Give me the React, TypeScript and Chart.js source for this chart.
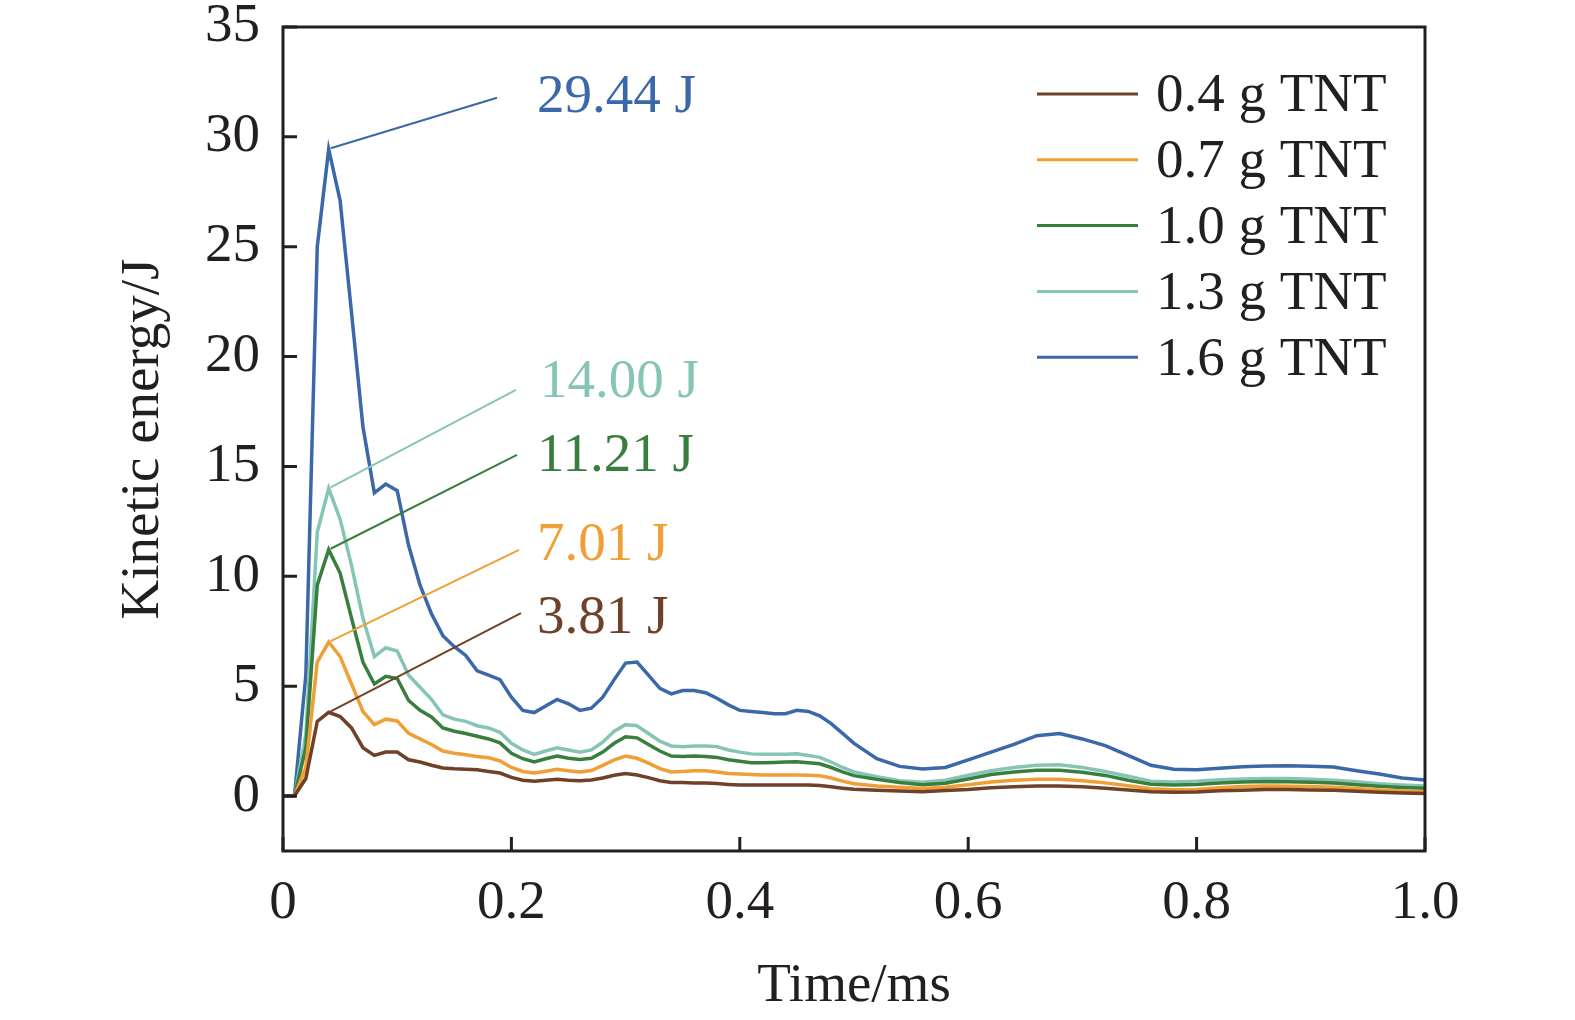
import React, { useEffect, useRef } from 'react';
import { Chart, registerables } from 'chart.js';

Chart.register(...registerables);

// ---------- data ----------
const TIME_MS = [
  0, 0.01, 0.02, 0.03, 0.04, 0.05, 0.06, 0.07, 0.08, 0.09,
  0.10, 0.11, 0.12, 0.13, 0.14, 0.15, 0.16, 0.17, 0.18, 0.19,
  0.20, 0.21, 0.22, 0.23, 0.24, 0.25, 0.26, 0.27, 0.28, 0.29,
  0.30, 0.31, 0.32, 0.33, 0.34, 0.35, 0.36, 0.37, 0.38, 0.39,
  0.40, 0.41, 0.42, 0.43, 0.44, 0.45, 0.46, 0.47, 0.48, 0.49,
  0.50,
  0.52, 0.54, 0.56, 0.58, 0.60, 0.62, 0.64, 0.66, 0.68, 0.70,
  0.72, 0.74, 0.76, 0.78, 0.80, 0.82, 0.84, 0.86, 0.88, 0.90,
  0.92, 0.94, 0.96, 0.98, 1.00,
];

const TNT_04 = [
  0, 0, 0.8, 3.4, 3.81, 3.62, 3.1, 2.2, 1.85, 2.0,
  2.0, 1.65, 1.55, 1.4, 1.28, 1.24, 1.22, 1.2, 1.12, 1.05,
  0.85, 0.72, 0.68, 0.72, 0.76, 0.72, 0.7, 0.73, 0.82, 0.95,
  1.03, 0.96, 0.84, 0.7, 0.62, 0.62, 0.6, 0.6, 0.57, 0.53,
  0.5, 0.5, 0.5, 0.5, 0.5, 0.5, 0.5, 0.48, 0.42, 0.36,
  0.31,
  0.26, 0.23, 0.2, 0.25, 0.3, 0.38, 0.42, 0.46, 0.46, 0.42,
  0.36, 0.28, 0.2, 0.17, 0.18, 0.24, 0.27, 0.3, 0.3, 0.28,
  0.26, 0.22, 0.17, 0.14, 0.12,
];

const TNT_07 = [
  0, 0, 1.3, 6.1, 7.01, 6.35, 5.1, 3.85, 3.25, 3.5,
  3.42, 2.85, 2.6, 2.35, 2.05, 1.95, 1.88, 1.8, 1.74, 1.6,
  1.3, 1.12, 1.05, 1.13, 1.22, 1.15, 1.1, 1.16, 1.4, 1.65,
  1.82, 1.72, 1.5, 1.25, 1.1, 1.12, 1.15, 1.15, 1.1, 1.03,
  1.0, 0.98, 0.96, 0.96, 0.96, 0.96, 0.95, 0.93, 0.82, 0.68,
  0.56,
  0.46, 0.4, 0.34, 0.4, 0.52, 0.64, 0.72, 0.77, 0.77, 0.7,
  0.6, 0.47, 0.33, 0.29, 0.3, 0.38, 0.43, 0.46, 0.45, 0.43,
  0.4, 0.34, 0.28, 0.23, 0.2,
];

const TNT_10 = [
  0, 0, 2.2, 9.6, 11.21, 10.15, 8.1, 6.1, 5.1, 5.45,
  5.35, 4.35, 3.9, 3.6, 3.1, 2.95, 2.85, 2.72, 2.6, 2.42,
  1.95, 1.7, 1.55, 1.7, 1.82, 1.72, 1.67, 1.72, 2.0, 2.4,
  2.7, 2.65, 2.35, 2.05, 1.82, 1.8, 1.82, 1.8, 1.76, 1.65,
  1.58, 1.52, 1.52, 1.53, 1.55, 1.56, 1.52, 1.47, 1.3, 1.1,
  0.93,
  0.76, 0.62, 0.52, 0.58, 0.78, 0.98, 1.1, 1.17, 1.18, 1.08,
  0.94, 0.72, 0.54, 0.5, 0.53, 0.6, 0.64, 0.66, 0.65, 0.63,
  0.6, 0.52, 0.45, 0.39, 0.35,
];

const TNT_13 = [
  0, 0, 2.8, 12.0, 14.0, 12.6, 10.5, 8.1, 6.35, 6.75,
  6.6, 5.5, 4.95, 4.4, 3.7, 3.5, 3.4, 3.2, 3.1, 2.9,
  2.4, 2.1, 1.9, 2.05, 2.2, 2.1, 2.0, 2.1, 2.45, 2.95,
  3.25, 3.2, 2.85, 2.5, 2.28, 2.25, 2.28, 2.28, 2.25, 2.1,
  2.0, 1.92, 1.9, 1.9, 1.9, 1.93, 1.85, 1.76, 1.55, 1.3,
  1.1,
  0.88, 0.7, 0.63, 0.72, 0.95, 1.15, 1.3, 1.4, 1.42, 1.3,
  1.12, 0.9, 0.68, 0.64, 0.68, 0.74, 0.78, 0.8, 0.8, 0.77,
  0.72, 0.65, 0.56, 0.5, 0.46,
];

const TNT_16 = [
  0, 0, 5.5, 25.0, 29.44, 27.1, 22.0, 16.8, 13.8, 14.2,
  13.9, 11.4, 9.6, 8.3, 7.3, 6.8, 6.4, 5.7, 5.5, 5.3,
  4.5, 3.9, 3.8, 4.1, 4.4, 4.2, 3.9, 4.0, 4.5, 5.3,
  6.05, 6.1, 5.5, 4.9, 4.65, 4.8, 4.8, 4.7, 4.45, 4.15,
  3.9, 3.85, 3.8, 3.75, 3.75, 3.9, 3.85, 3.65, 3.3, 2.85,
  2.4,
  1.7, 1.35, 1.23, 1.3, 1.65, 2.0, 2.35, 2.75, 2.85, 2.6,
  2.3, 1.85, 1.4, 1.22, 1.2, 1.27, 1.33, 1.37, 1.38, 1.36,
  1.32, 1.15, 1.0, 0.82, 0.73,
];

const SERIES_LABELS = ['0.4 g TNT', '0.7 g TNT', '1.0 g TNT', '1.3 g TNT', '1.6 g TNT'];
const SERIES_VALUES = [TNT_04, TNT_07, TNT_10, TNT_13, TNT_16];

// peak values marked with call-outs
const PEAK_TIMES = [0.04, 0.04, 0.04, 0.04, 0.04];
const PEAK_VALUES = [3.81, 7.01, 11.21, 14.0, 29.44];

// ---------- styles / layout ----------
const COLORS = ['#6F4128', '#EF9F35', '#3A7E3E', '#86C5B6', '#3A68A8'];
const INK = '#231F20';
const FONT = "'Liberation Serif', 'Times New Roman', Times, serif";
const FONT_SIZE = 55;

// call-out leader end and text anchor, in data coordinates
const CALLOUT_LINE_END = [
  [0.2084, 8.33],
  [0.2067, 11.2],
  [0.2049, 15.53],
  [0.204, 18.49],
  [0.1874, 31.78],
];
const CALLOUT_TEXT_AT = [
  [0.2224, 8.29],
  [0.2224, 11.61],
  [0.2224, 15.66],
  [0.225, 19.03],
  [0.2224, 32.01],
];

const framePlugin = {
  id: 'frameAndTicks',
  afterDraw(chart: any) {
    const { ctx, chartArea: a, scales } = chart;
    const xs = scales.x;
    const ys = scales.y;
    ctx.save();
    ctx.strokeStyle = INK;
    ctx.lineWidth = 3;
    ctx.lineCap = 'butt';
    ctx.beginPath();
    xs.ticks.forEach((t: any) => {
      const px = xs.getPixelForValue(t.value);
      ctx.moveTo(px, a.bottom);
      ctx.lineTo(px, a.bottom - 14);
    });
    ys.ticks.forEach((t: any) => {
      const py = ys.getPixelForValue(t.value);
      ctx.moveTo(a.left, py);
      ctx.lineTo(a.left + 14, py);
    });
    ctx.stroke();
    ctx.strokeRect(a.left, a.top, a.right - a.left, a.bottom - a.top);
    ctx.restore();
  },
};

const calloutPlugin = {
  id: 'callouts',
  afterDatasetsDraw(chart: any) {
    const { ctx, scales } = chart;
    const xs = scales.x;
    const ys = scales.y;
    ctx.save();
    ctx.font = `${FONT_SIZE}px ${FONT}`;
    ctx.textAlign = 'left';
    ctx.textBaseline = 'middle';
    PEAK_VALUES.forEach((v, i) => {
      const x0 = xs.getPixelForValue(PEAK_TIMES[i]);
      const y0 = ys.getPixelForValue(v);
      const x1 = xs.getPixelForValue(CALLOUT_LINE_END[i][0]);
      const y1 = ys.getPixelForValue(CALLOUT_LINE_END[i][1]);
      ctx.strokeStyle = COLORS[i];
      ctx.lineWidth = 2;
      ctx.beginPath();
      ctx.moveTo(x0 + 2, y0 - 1);
      ctx.lineTo(x1, y1);
      ctx.stroke();
      ctx.fillStyle = COLORS[i];
      ctx.fillText(
        `${v.toFixed(2)} J`,
        xs.getPixelForValue(CALLOUT_TEXT_AT[i][0]),
        ys.getPixelForValue(CALLOUT_TEXT_AT[i][1]) + 5
      );
    });
    ctx.restore();
  },
};

const legendPlugin = {
  id: 'insideLegend',
  afterDatasetsDraw(chart: any) {
    const { ctx, chartArea: a } = chart;
    ctx.save();
    ctx.font = `${FONT_SIZE}px ${FONT}`;
    ctx.textAlign = 'left';
    ctx.textBaseline = 'middle';
    chart.data.datasets.forEach((ds: any, i: number) => {
      const y = a.top + 67 + 65.8 * i;
      const x0 = a.right - 388;
      ctx.strokeStyle = ds.borderColor;
      ctx.lineWidth = 3;
      ctx.beginPath();
      ctx.moveTo(x0, y);
      ctx.lineTo(x0 + 101, y);
      ctx.stroke();
      ctx.fillStyle = INK;
      ctx.fillText(ds.label, x0 + 119, y + 3);
    });
    ctx.restore();
  },
};

export default function App() {
  const ref = useRef<HTMLCanvasElement | null>(null);

  useEffect(() => {
    if (!ref.current) return;
    const datasets = SERIES_VALUES.map((vals, i) => ({
      label: SERIES_LABELS[i],
      data: TIME_MS.map((t, j) => ({ x: t, y: vals[j] })),
      borderColor: COLORS[i],
      backgroundColor: COLORS[i],
      borderWidth: 3.5,
      pointRadius: 0,
      tension: 0,
      fill: false,
    }));
    const chart = new Chart(ref.current, {
      type: 'line',
      data: { datasets },
      options: {
        animation: false,
        responsive: false,
        devicePixelRatio: 1,
        layout: { padding: { top: 27, right: 150, left: 0, bottom: 0 } },
        plugins: { legend: { display: false }, tooltip: { enabled: false } },
        scales: {
          x: {
            type: 'linear',
            min: 0,
            max: 1,
            grid: { display: false, drawTicks: false },
            border: { display: false },
            ticks: {
              stepSize: 0.2,
              color: INK,
              padding: 20,
              maxRotation: 0,
              font: { family: FONT, size: FONT_SIZE },
              callback: (v: any) => (Number(v) === 0 ? '0' : Number(v).toFixed(1)),
            },
            title: {
              display: true,
              text: 'Time/ms',
              color: INK,
              font: { family: FONT, size: FONT_SIZE },
              padding: { top: 0, bottom: 0 },
            },
            afterFit: (s: any) => {
              s.height = 169;
              s.paddingLeft = 0;
              s.paddingRight = 0;
            },
          },
          y: {
            type: 'linear',
            min: -2.5,
            max: 35,
            grid: { display: false, drawTicks: false },
            border: { display: false },
            afterBuildTicks: (s: any) => {
              s.ticks = s.ticks.filter((t: any) => t.value >= 0 && Math.abs(t.value % 5) < 1e-6);
            },
            ticks: {
              stepSize: 5,
              color: INK,
              padding: 23,
              font: { family: FONT, size: FONT_SIZE, lineHeight: 1 },
              callback: (v: any) => String(Number(v)),
            },
            title: {
              display: true,
              text: 'Kinetic energy/J',
              color: INK,
              font: { family: FONT, size: FONT_SIZE },
              padding: { top: 111, bottom: 0 },
            },
            afterFit: (s: any) => {
              s.width = 283;
              s.paddingTop = 0;
              s.paddingBottom = 0;
            },
          },
        },
      },
      plugins: [calloutPlugin, legendPlugin, framePlugin],
    });
    return () => chart.destroy();
  }, []);

  return (
    <div style={{ position: 'fixed', left: 0, top: 0, width: 1575, height: 1020, background: '#ffffff' }}>
      <canvas ref={ref} width={1575} height={1020} style={{ display: 'block', width: 1575, height: 1020 }} />
    </div>
  );
}
